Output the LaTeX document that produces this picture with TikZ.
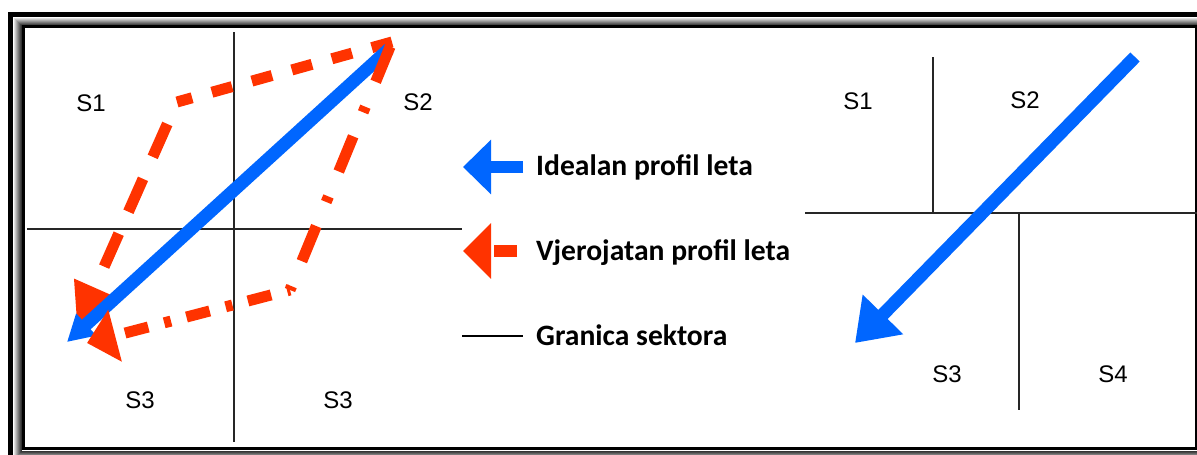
\documentclass[tikz,border=0pt]{standalone}
\usepackage{fontspec}
\newfontfamily\labfont{Liberation Sans}
\newfontfamily\legfont{Carlito}
\usetikzlibrary{arrows.meta}
\definecolor{ideal}{HTML}{0066FF}
\definecolor{prob}{HTML}{FF3300}
\begin{document}
\begin{tikzpicture}[x=1pt,y=-1pt,
  boundary/.style={line width=1.6pt, black!85},
  sect/.style={font=\labfont\fontsize{24}{24}\selectfont, inner sep=0pt},
  leg/.style={font=\legfont\bfseries\fontsize{29.6}{31}\selectfont, anchor=base west, inner sep=0pt},
  idealpath/.style={draw=ideal, line width=13pt},
  probpath/.style={draw=prob, line width=11pt},
]
\useasboundingbox (0,0) rectangle (1197,455);
\clip (0,0) rectangle (1197,455);
\fill[white] (0,0) rectangle (1197,455);
% frame
\draw[line width=5pt] (10.5,14.5) rectangle (1215,470);
\foreach \i/\c in {0/12,1/22,2/32,3/42,4/52,5/62,6/72,7/80}
  \draw[black!\c, line width=1pt] (14.5+\i,18.5+\i) rectangle (1206-\i,458-\i);
\draw[line width=3pt] (23.5,26.5) rectangle (1196.5,448);

% ---------- left panel ----------
\coordinate (lvT) at (234,32);  \coordinate (lvB) at (234,442);
\coordinate (lhL) at (27,229);  \coordinate (lhR) at (462,229);
\draw[boundary] (lvT) -- (lvB);
\draw[boundary] (lhL) -- (lhR);

\node[sect] (l1) at (91,103) {S1};
\node[sect] (l2) at (418,102) {S2};
\node[sect] (l3) at (140,400) {S3};
\node[sect] (l4) at (338,400) {S3};

\coordinate (p0) at (392,42);
\coordinate (p1) at (177,102);
\coordinate (p2) at (77,328);
\coordinate (q1) at (290,290);
\coordinate (q2) at (87,343);
\coordinate (i0) at (389,49);
\coordinate (i1) at (67,342);

% probable profile via S1 (dashed)
\draw[probpath, dash pattern=on 21pt off 20.5pt] (p0) -- (p1);
\draw[probpath, dash pattern=on 36pt off 24pt, dash phase=36pt,
      -{Triangle[length=44pt,width=42pt]}] (p1) -- (p2);
% ideal profile
\draw[idealpath, -{Triangle[length=26pt,width=28pt]}] (i0) -- (i1);
% probable profile via S3 (dash-dot)
\draw[probpath, dash pattern=on 38pt off 27pt on 6pt off 26pt, dash phase=92pt] (p0) -- (q1);
\draw[probpath, dash pattern=on 24pt off 16pt on 7pt off 16.5pt, dash phase=44pt,
      -{Triangle[length=29pt,width=52pt]}] (q1) -- (q2);

% ---------- legend ----------
\coordinate (a1s) at (523,167); \coordinate (a1e) at (463,167);
\coordinate (a2s) at (517,251); \coordinate (a2e) at (463,251);
\coordinate (a3s) at (462,336); \coordinate (a3e) at (523,336);
\draw[idealpath, line width=12pt, -{Triangle[length=28pt,width=53pt]}] (a1s) -- (a1e);
\draw[probpath, line width=12pt, dash pattern=on 23pt off 3pt,
      -{Triangle[length=28pt,width=54pt]}] (a2s) -- (a2e);
\draw[line width=1.6pt] (a3s) -- (a3e);
\node[leg] (t1) at (536,175) {Idealan profil leta};
\node[leg] (t2) at (536,260) {Vjerojatan profil leta};
\node[leg] (t3) at (536,345) {Granica sektora};

% ---------- right panel ----------
\coordinate (rv1T) at (933,57);  \coordinate (rv1B) at (933,213);
\coordinate (rhL) at (805,213);  \coordinate (rhR) at (1197,213);
\coordinate (rv2T) at (1019,213); \coordinate (rv2B) at (1019,410);
\draw[boundary] (rv1T) -- (rv1B);
\draw[boundary] (rhL) -- (rhR);
\draw[boundary] (rv2T) -- (rv2B);

\node[sect] (r1) at (858,101) {S1};
\node[sect] (r2) at (1025,100) {S2};
\node[sect] (r3) at (947,374) {S3};
\node[sect] (r4) at (1113,374) {S4};

\coordinate (b0) at (1135,57);
\coordinate (b1) at (855,343);
\draw[idealpath, -{Triangle[length=40pt,width=54pt]}] (b0) -- (b1);
\end{tikzpicture}
\end{document}
